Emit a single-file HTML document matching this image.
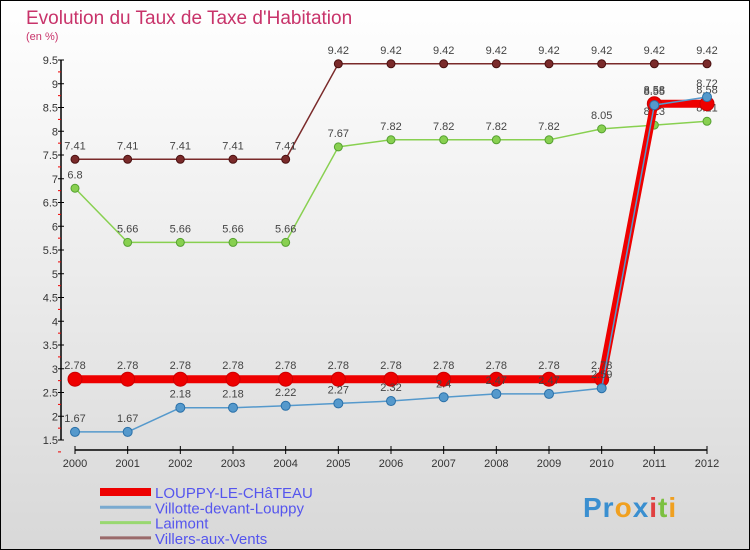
<!DOCTYPE html>
<html><head><meta charset="utf-8"><style>
body{margin:0;width:750px;height:550px;overflow:hidden}
svg{display:block;font-family:"Liberation Sans",sans-serif}
</style></head><body>
<svg id="c" width="750" height="550">
<defs><linearGradient id="bg" x1="0" y1="0" x2="0" y2="1"><stop offset="0" stop-color="#ffffff"/><stop offset="1" stop-color="#d8d8d8"/></linearGradient></defs>
<rect x="0.5" y="0.5" width="749" height="549" fill="url(#bg)" stroke="#000"/>
<text x="26" y="24" font-size="19" fill="#c8336a">Evolution du Taux de Taxe d'Habitation</text>
<text x="26" y="40" font-size="11" fill="#c8336a">(en %)</text>
<g id="axes"></g><g id="series"></g><g id="legend"></g>
<g>
<text x="583" y="517" font-size="28" font-weight="bold" letter-spacing="1"><tspan fill="#3a8fd0">Pr</tspan><tspan fill="#f0a020">o</tspan><tspan fill="#3a8fd0">x</tspan><tspan fill="#e04040">i</tspan><tspan fill="#7cc040">t</tspan><tspan fill="#f0a020">i</tspan></text>
</g>
</svg>
<script>
const years=[2000,2001,2002,2003,2004,2005,2006,2007,2008,2009,2010,2011,2012];
const louppy=[2.78,2.78,2.78,2.78,2.78,2.78,2.78,2.78,2.78,2.78,2.78,8.58,8.58];
const villotte=[1.67,1.67,2.18,2.18,2.22,2.27,2.32,2.4,2.47,2.47,2.59,8.55,8.72];
const laimont=[6.8,5.66,5.66,5.66,5.66,7.67,7.82,7.82,7.82,7.82,8.05,8.13,8.21];
const villers=[7.41,7.41,7.41,7.41,7.41,9.42,9.42,9.42,9.42,9.42,9.42,9.42,9.42];
const yTicks=[1.5,2,2.5,3,3.5,4,4.5,5,5.5,6,6.5,7,7.5,8,8.5,9,9.5];
const names=["LOUPPY-LE-CHâTEAU","Villotte-devant-Louppy","Laimont","Villers-aux-Vents"];
const NS="http://www.w3.org/2000/svg";
const x=i=>75+i*(707-75)/(years.length-1);
const y=v=>440-(v-1.5)*47.5;
function mk(tag,attrs,parent,txt){const e=document.createElementNS(NS,tag);for(const k in attrs)e.setAttribute(k,attrs[k]);if(txt!==undefined)e.textContent=txt;parent.appendChild(e);return e;}
const ax=document.getElementById('axes');
let e=mk('line',{x1:61,y1:y(9.5),x2:61,y2:y(1.5),stroke:'#000','stroke-width':1.5},ax);


e=mk('line',{x1:75,y1:450,x2:707,y2:450,stroke:'#000','stroke-width':1.5},ax);


yTicks.forEach((t,i)=>{
  mk('line',{x1:58,y1:y(t),x2:64,y2:y(t),stroke:'#000'},ax);
  mk('line',{x1:58,y1:y(t)+11.9,x2:61,y2:y(t)+11.9,stroke:'#e00'},ax);
  const l=mk('text',{x:58,y:y(t)+4,'font-size':11,fill:'#333','text-anchor':'end'},ax,String(t));
  
  
});
years.forEach((yr,i)=>{
  mk('line',{x1:x(i),y1:446,x2:x(i),y2:454,stroke:'#000'},ax);
  const l=mk('text',{x:x(i),y:467,'font-size':11,fill:'#333','text-anchor':'middle'},ax,String(yr));
  
  
});
const sg=document.getElementById('series');
function series(vals,color,w,r,name,stroke){
  const g=mk('g',{},sg);
  
  
  mk('polyline',{points:vals.map((v,i)=>x(i)+','+y(v)).join(' '),fill:'none',stroke:color,'stroke-width':w,'stroke-linejoin':'round'},g);
  vals.forEach((v,i)=>{
    const c=mk('circle',{cx:x(i),cy:y(v),r:r,fill:color,stroke:stroke,'stroke-width':1},g);
    
    
    const t=mk('text',{x:x(i),y:y(v)-10,'font-size':11,fill:'#444','text-anchor':'middle'},g,String(v));
    
    
  });
}
series(villers,'#7a2a2a',1.5,4,'series-villers-aux-vents','#4a1010');
series(laimont,'#88d050',1.5,4,'series-laimont','#55a030');
series(louppy,'#ee0000',8,7,'series-louppy','#cc0000');
series(villotte,'#5599cc',1.5,4.5,'series-villotte','#2a70a8');
const lg=document.getElementById('legend');
const cols=['#ee0000','#7aaad0','#99d870','#9a6a6a'];const ws=[8,3,3,3];
names.forEach((n,i)=>{
  const yy=492+i*15.3;
  const g=mk('g',{},lg);
  
  
  mk('line',{x1:100,y1:yy,x2:151,y2:yy,stroke:cols[i],'stroke-width':ws[i]},g);
  mk('text',{x:155,y:yy+6,'font-size':15,fill:'#5555ee'},g,n);
});
</script>
</body></html>
